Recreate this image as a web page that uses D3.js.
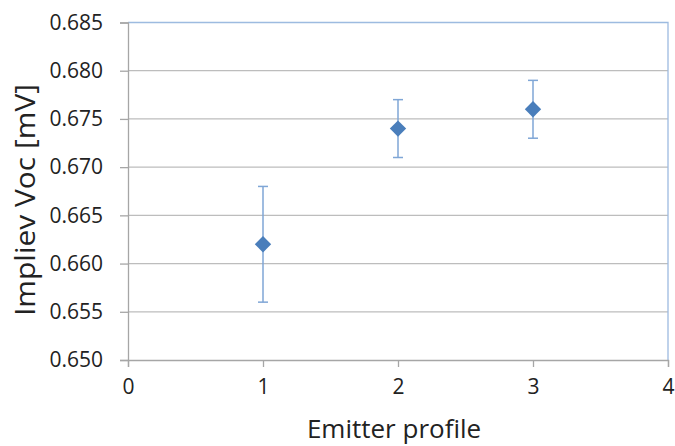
<!DOCTYPE html>
<html><head><meta charset="utf-8">
<script src="https://cdn.jsdelivr.net/npm/d3@7"></script>
<style>body{margin:0;background:#fff}svg{display:block}text{font-family:"Open Sans",sans-serif;fill:#222}</style>
</head><body><svg id="c" width="675" height="446"></svg>
<script>
const profiles = [1, 2, 3];
const vocMean = [0.662, 0.674, 0.676];
const vocLow = [0.656, 0.671, 0.673];
const vocHigh = [0.668, 0.677, 0.679];
const xTicks = [0, 1, 2, 3, 4];
const yTicks = [0.650, 0.655, 0.660, 0.665, 0.670, 0.675, 0.680, 0.685];

const svg = d3.select("#c");
const L = 128, R = 668, T = 22.5, B = 360;
const x = d3.scaleLinear().domain([0, 4]).range([L, R]);
const y = d3.scaleLinear().domain([0.650, 0.685]).range([B, T]);

// gridlines
svg.append("g").selectAll("line").data(yTicks.slice(1, -1)).join("line")
  .attr("x1", L).attr("x2", R).attr("y1", d => y(d)).attr("y2", d => y(d))
  .attr("stroke", "#bdbdbd").attr("stroke-width", 1.3);

// top & right border (light blue)
svg.append("path").attr("d", `M${L},${T}H${R}V${B}`).attr("fill", "none")
  .attr("stroke", "#9dbbe0").attr("stroke-width", 1.3);

// y axis
const ya = svg.append("g").attr("transform", `translate(${L},0)`)
  .call(d3.axisLeft(y).tickValues(yTicks).tickFormat(d3.format(".3f")).tickSize(8).tickPadding(17));
ya.select(".domain").attr("stroke", "#a6a6a6").attr("stroke-width", 1.3);
ya.selectAll(".tick line").attr("stroke", "#a6a6a6").attr("stroke-width", 1.3);
ya.selectAll("text").attr("font-size", 21).attr("font-family", "Open Sans").attr("fill", "#222");

// x axis
const xa = svg.append("g").attr("transform", `translate(0,${B})`)
  .call(d3.axisBottom(x).tickValues(xTicks).tickFormat(d3.format("d")).tickSize(7).tickPadding(12));
xa.select(".domain").attr("stroke", "#a6a6a6").attr("stroke-width", 1.3);
xa.selectAll(".tick line").attr("stroke", "#a6a6a6").attr("stroke-width", 1.3);
xa.selectAll("text").attr("font-size", 21).attr("font-family", "Open Sans").attr("fill", "#222");

// error bars
const eb = svg.append("g").attr("stroke", "#7fa6d6").attr("stroke-width", 1.5);
profiles.forEach((p, i) => {
  eb.append("line").attr("x1", x(p)).attr("x2", x(p)).attr("y1", y(vocLow[i])).attr("y2", y(vocHigh[i]));
  eb.append("line").attr("x1", x(p) - 5).attr("x2", x(p) + 5).attr("y1", y(vocLow[i])).attr("y2", y(vocLow[i]));
  eb.append("line").attr("x1", x(p) - 5).attr("x2", x(p) + 5).attr("y1", y(vocHigh[i])).attr("y2", y(vocHigh[i]));
});

// diamonds
svg.append("g").selectAll("path").data(profiles).join("path")
  .attr("d", d3.symbol(d3.symbolDiamond2, 170))
  .attr("transform", (d, i) => `translate(${x(d)},${y(vocMean[i])})`)
  .attr("fill", "#4a7ebb");

// axis titles
svg.append("text").attr("x", 394).attr("y", 438).attr("text-anchor", "middle")
  .attr("font-size", 26).text("Emitter profile");
svg.append("text").attr("transform", "translate(35,200) rotate(-90)").attr("text-anchor", "middle")
  .attr("font-size", 27).attr("textLength", 232).attr("lengthAdjust", "spacingAndGlyphs").text("Impliev Voc [mV]");
</script></body></html>
